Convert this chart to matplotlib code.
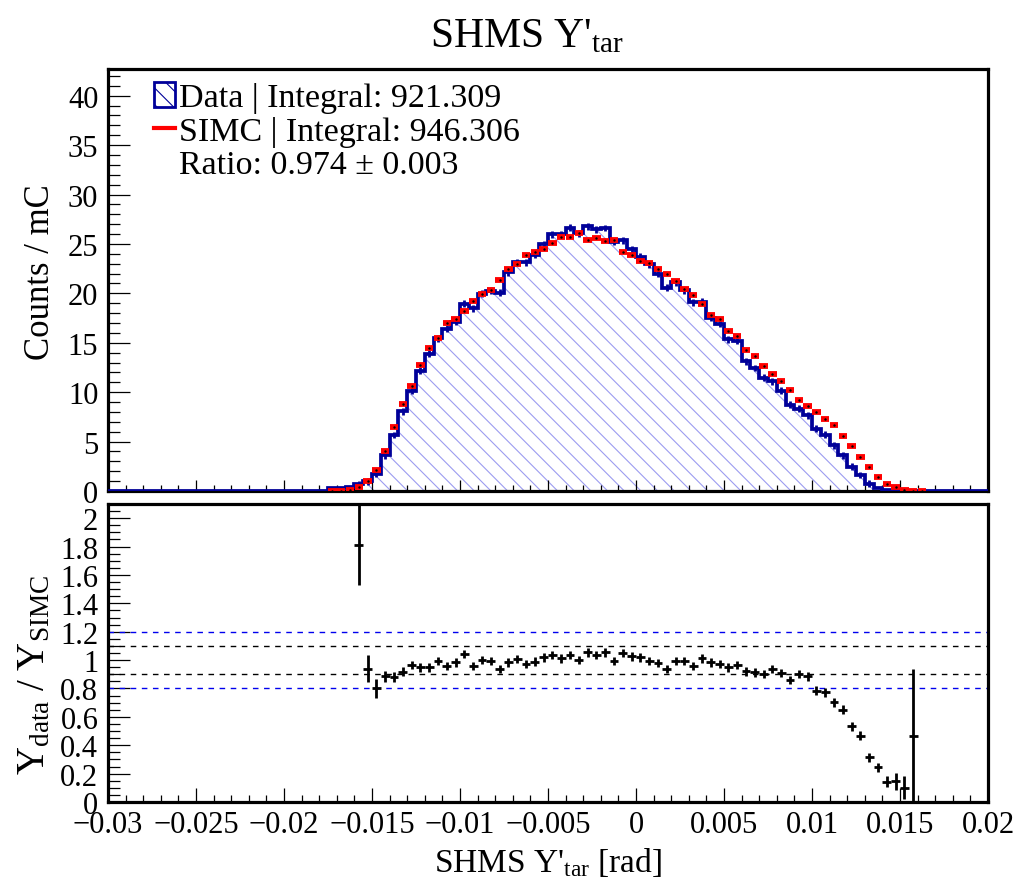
import numpy as np
import matplotlib
matplotlib.use("Agg")
import matplotlib.pyplot as plt
from matplotlib.ticker import MultipleLocator, FuncFormatter
from matplotlib.patches import Patch
from matplotlib.lines import Line2D

plt.rcParams['font.family'] = ['Liberation Serif', 'DejaVu Serif']
plt.rcParams['mathtext.fontset'] = 'custom'
plt.rcParams['mathtext.rm'] = 'Liberation Serif'
plt.rcParams['mathtext.it'] = 'Liberation Serif:italic'
plt.rcParams['hatch.linewidth'] = 0.8

# 100 bins of SHMS Y'tar between -0.03 and 0.02 rad
edges = np.linspace(-0.03, 0.02, 101)
centers = 0.5 * (edges[:-1] + edges[1:])

# data (counts / mC), bins 25..91, zero elsewhere
data_counts = [0.0] * 25 + [
    0.30, 0.35, 0.45, 0.67, 0.98, 1.72, 3.60, 5.67, 8.07, 10.16,
    12.18, 13.87, 15.46, 16.40, 17.14, 18.96, 18.50, 19.95, 20.25, 20.05,
    22.12, 23.15, 23.16, 23.93, 24.97, 25.96, 26.00, 26.65, 26.09, 26.79,
    26.49, 26.61, 25.22, 25.38, 24.45, 23.72, 22.94, 22.00, 20.56, 21.10,
    20.29, 19.08, 19.17, 17.54, 16.93, 15.36, 15.18, 13.14, 12.45, 11.45,
    11.10, 10.16, 8.75, 8.31, 7.66, 6.30, 5.68, 4.64, 3.60, 2.45,
    1.62, 0.76, 0.34, 0.10, 0.054, 0.013, 0.014,
] + [0.0] * 8

# SIMC (counts / mC), bins 25..92
simc_counts = [0.0] * 25 + [
    0.02, 0.03, 0.13, 0.37, 1.05, 2.13, 4.02, 6.45, 8.81, 10.60,
    12.79, 14.48, 15.49, 17.04, 17.38, 18.20, 19.27, 19.95, 20.35, 21.40,
    22.48, 22.99, 23.83, 24.17, 24.50, 25.08, 25.69, 25.75, 26.09, 25.42,
    25.59, 25.25, 25.35, 24.17, 23.83, 23.26, 23.06, 22.48, 21.94, 21.20,
    20.39, 19.88, 18.94, 17.82, 17.38, 16.20, 15.73, 14.28, 13.64, 12.69,
    11.85, 11.17, 10.19, 9.21, 8.64, 8.03, 7.33, 6.64, 5.54, 4.59,
    3.48, 2.40, 1.39, 0.71, 0.37, 0.13, 0.03, 0.03,
] + [0.0] * 7

# ratio data / SIMC, bins 28..91
ratio_first_bin = 28
ratio = [
    1.81, 0.94, 0.80, 0.885, 0.878, 0.918, 0.965, 0.948, 0.948, 0.995,
    0.96, 0.984, 1.042, 0.96, 1.0, 0.995, 0.937, 0.984, 1.007, 0.972,
    0.99, 1.019, 1.035, 1.012, 1.035, 1.0, 1.054, 1.035, 1.054, 0.995,
    1.05, 1.026, 1.02, 0.995, 0.979, 0.937, 0.995, 0.995, 0.96, 1.012,
    0.984, 0.972, 0.948, 0.965, 0.92, 0.913, 0.902, 0.937, 0.91, 0.859,
    0.902, 0.886, 0.784, 0.772, 0.702, 0.65, 0.533, 0.467, 0.315, 0.244,
    0.143, 0.146, 0.10, 0.467,
]
ratio_err = [
    0.28, 0.095, 0.065, 0.04, 0.035, 0.03, 0.03, 0.03, 0.03, 0.03,
    0.03, 0.03, 0.03, 0.03, 0.03, 0.03, 0.03, 0.03, 0.03, 0.03,
    0.03, 0.03, 0.03, 0.03, 0.03, 0.03, 0.03, 0.03, 0.03, 0.03,
    0.03, 0.03, 0.03, 0.03, 0.03, 0.03, 0.03, 0.03, 0.03, 0.03,
    0.03, 0.03, 0.03, 0.03, 0.03, 0.03, 0.03, 0.03, 0.03, 0.03,
    0.03, 0.03, 0.03, 0.03, 0.03, 0.03, 0.03, 0.03, 0.03, 0.03,
    0.04, 0.06, 0.08, 0.47,
]

data_counts = np.array(data_counts)
simc_counts = np.array(simc_counts)
ratio = np.array(ratio)
ratio_err = np.array(ratio_err)
half_bin = 0.5 * (edges[1] - edges[0])

fig = plt.figure(figsize=(10.18, 8.87), dpi=100)
ax1 = fig.add_axes([0.1061, 0.4453, 0.8644, 0.4758])
ax2 = fig.add_axes([0.1061, 0.0947, 0.8644, 0.3360])

navy = '#000099'

# ---- top pad: histograms
ax1.fill_between(edges, np.append(data_counts, data_counts[-1]), step='post',
                 facecolor='none', edgecolor='#9c9cf0', hatch='\\\\', linewidth=0)
ax1.stairs(data_counts, edges, color=navy, linewidth=2.7, zorder=3)
has_data = data_counts > 0.5
ax1.errorbar(centers[has_data], data_counts[has_data], yerr=0.35, fmt='none',
             ecolor=navy, elinewidth=2.0, zorder=3)
has_simc = simc_counts > 0
ax1.errorbar(centers[has_simc], simc_counts[has_simc], xerr=half_bin * 0.95, yerr=0.14,
             fmt='none', ecolor='red', elinewidth=4.2, zorder=4)
ax1.plot(centers[has_simc], simc_counts[has_simc], linestyle='none', marker='.',
         markersize=1.5, color='black', zorder=5)

ax1.set_xlim(-0.03, 0.02)
ax1.set_ylim(0, 42.7)
ax1.set_ylabel('Counts / mC', fontsize=25)
ax1.yaxis.set_label_coords(-0.058, 0.52)
ax1.yaxis.set_major_locator(MultipleLocator(5))
ax1.yaxis.set_minor_locator(MultipleLocator(1))
ax1.xaxis.set_major_locator(MultipleLocator(0.005))
ax1.xaxis.set_minor_locator(MultipleLocator(0.001))
ax1.tick_params(axis='x', which='both', labelbottom=False)
ax1.tick_params(axis='x', which='major', direction='in', length=8, width=0.9)
ax1.tick_params(axis='x', which='minor', direction='in', length=4, width=0.9)
ax1.tick_params(axis='y', which='major', direction='in', length=16, width=0.9,
                labelsize=22, pad=7)
ax1.tick_params(axis='y', which='minor', direction='in', length=8.5, width=0.9)

legend_handles = [
    Patch(facecolor='white', edgecolor=navy, hatch='\\\\', linewidth=2),
    Line2D([], [], color='red', linewidth=3),
    Line2D([], [], color='none'),
]
legend_labels = ['Data | Integral: 921.309', 'SIMC | Integral: 946.306',
                 'Ratio: 0.974 \u00b1 0.003']
ax1.legend(legend_handles, legend_labels, loc='upper left', bbox_to_anchor=(0.052, 0.97),
           frameon=False, fontsize=24.5, handlelength=0.62, handleheight=0.75,
           handletextpad=0.12, labelspacing=0.07, borderpad=0, borderaxespad=0)

# ---- bottom pad: ratio
rbins = np.arange(ratio_first_bin, ratio_first_bin + len(ratio))
ax2.errorbar(centers[rbins], ratio, xerr=half_bin, yerr=ratio_err, fmt='none',
             ecolor='black', elinewidth=2.0, zorder=3)
for level, col in [(1.2, '#0000ee'), (1.1, 'black'), (0.9, 'black'), (0.8, '#0000ee')]:
    ax2.axhline(level, color=col, linestyle=(0, (4, 4)), linewidth=1.0, zorder=2)

ax2.set_xlim(-0.03, 0.02)
ax2.set_ylim(0, 2.1)
ax2.xaxis.set_major_locator(MultipleLocator(0.005))
ax2.xaxis.set_minor_locator(MultipleLocator(0.001))
ax2.yaxis.set_major_locator(MultipleLocator(0.2))
ax2.yaxis.set_minor_locator(MultipleLocator(0.05))


def fmt_tick(v, pos):
    if abs(v) < 1e-9:
        return '0'
    return ('%g' % round(v, 6)).replace('-', '\u2212')


ax2.xaxis.set_major_formatter(FuncFormatter(fmt_tick))
ax2.yaxis.set_major_formatter(FuncFormatter(fmt_tick))
ax2.tick_params(axis='x', which='major', direction='in', length=10, width=0.9,
                labelsize=22, pad=6)
ax2.tick_params(axis='x', which='minor', direction='in', length=5, width=0.9)
ax2.tick_params(axis='y', which='major', direction='in', length=16, width=0.9,
                labelsize=22, pad=7)
ax2.tick_params(axis='y', which='minor', direction='in', length=8.5, width=0.9)
ax2.set_xlabel("SHMS Y'$_{\\mathrm{tar}}$ [rad]", fontsize=24)
ax2.xaxis.set_label_coords(0.5, -0.145)
ax2.set_ylabel("Y$_{\\mathrm{data}}$ / Y$_{\\mathrm{SIMC}}$", fontsize=28)
ax2.yaxis.set_label_coords(-0.062, 0.43)

for ax in (ax1, ax2):
    for sp in ax.spines.values():
        sp.set_linewidth(2.3)

fig.text(0.518, 0.958, "SHMS Y'$_{\\mathrm{tar}}$", fontsize=30, ha='center', va='center')

fig.savefig('out.png', dpi=100)
